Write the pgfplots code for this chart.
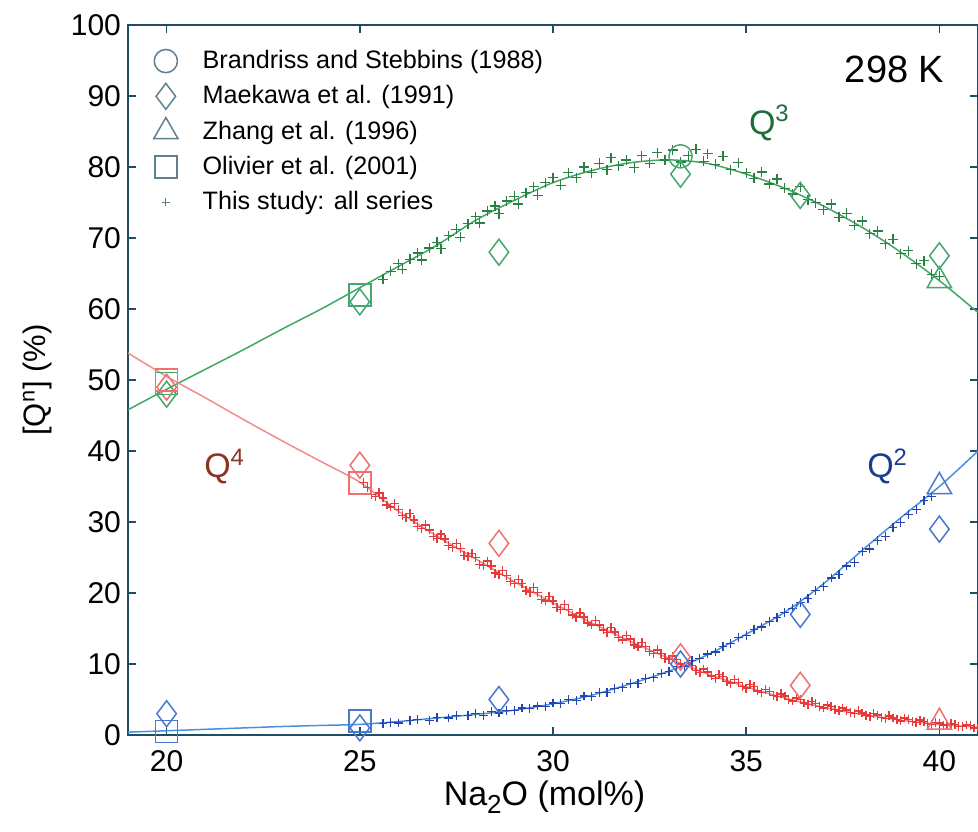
\documentclass[border=0pt]{standalone}
\usepackage{fontspec}
\setmainfont{Liberation Sans}
\usepackage{pgfplots}
\pgfplotsset{compat=1.18}
\usetikzlibrary{calc}
\definecolor{axc}{HTML}{1F4E63}
\definecolor{gline}{HTML}{3FA865}
\definecolor{gmark}{HTML}{46A670}
\definecolor{gplus}{HTML}{2A8040}
\definecolor{rline}{HTML}{F48A8A}
\definecolor{rmark}{HTML}{F07070}
\definecolor{rplus}{HTML}{E83A3A}
\definecolor{bline}{HTML}{4A90E0}
\definecolor{bmark}{HTML}{4A78D0}
\definecolor{bplus}{HTML}{2444B4}
\definecolor{legm}{HTML}{5F7F92}
\definecolor{gtext}{HTML}{1E6E3C}
\definecolor{rtext}{HTML}{8E3324}
\definecolor{btext}{HTML}{1E3C8C}
\pgfplotsset{myleg/.style={legend image code/.code={\path (0pt,0pt) (22pt,0pt); \draw[##1] plot[only marks] coordinates {(6pt,0pt)};}}}
\begin{document}
\begin{tikzpicture}
\begin{axis}[
  width=425pt, height=355pt, scale only axis,
  xmin=19, xmax=41, ymin=0, ymax=100,
  xtick={20,25,30,35,40}, ytick={0,10,...,100},
  tick align=inside, major tick length=4pt,
  axis line style={axc, line width=1pt},
  every tick/.style={axc, line width=0.8pt},
  tick label style={font=\fontsize{15}{18}\selectfont, black},
  /pgf/number format/assume math mode=true,
  xticklabel style={yshift=-4pt},
  xlabel={Na\raisebox{-0.45ex}{\fontsize{13}{13}\selectfont 2}O (mol\%)},
  ylabel={[Q\textsuperscript{n}] (\%)},
  xlabel style={font=\fontsize{17}{20}\selectfont, at={(axis description cs:0.49,-0.087)},anchor=center},
  ylabel style={font=\fontsize{15.5}{18}\selectfont, at={(axis description cs:-0.107,0.5)},anchor=center},
  legend style={at={(axis description cs:0.022,0.976)}, anchor=north west, draw=none, fill=none, font=\fontsize{12.6}{15}\selectfont, row sep=3pt},
  legend cell align=left,
]
\addlegendimage{myleg, legm, mark=o, mark size=5.8pt, line width=0.75pt}
\addlegendentry{Brandriss and Stebbins (1988)}
\addlegendimage{myleg, legm, mark=diamond, mark size=6.5pt, line width=0.75pt}
\addlegendentry{Maekawa et al. (1991)}
\addlegendimage{myleg, legm, mark=triangle, mark size=7pt, line width=0.75pt}
\addlegendentry{Zhang et al. (1996)}
\addlegendimage{myleg, legm, mark=square, mark size=5.5pt, line width=0.75pt}
\addlegendentry{Olivier et al. (2001)}
\addlegendimage{myleg, legm, mark=+, mark size=2pt, line width=0.6pt}
\addlegendentry{This study: all series}

% fit lines
\addplot[forget plot, gline, line width=0.75pt, smooth, tension=0.5] coordinates {
(19,45.8)(20,48.7)(21,51.5)(22,54.3)(23,57.2)(24,60.0)(25,63.0)(26,66.0)(27,69.0)(28,72.5)(29,75.3)(30,77.8)(31,79.5)(32,80.6)(33,81.0)(34,80.5)(35,79.0)(36,77.0)(37,74.5)(38,71.5)(39,68.0)(40,64.0)(41,59.5)};
\addplot[forget plot, rline, line width=0.75pt, smooth, tension=0.5] coordinates {
(19,53.8)(20,50.5)(21,47.5)(22,44.4)(23,41.4)(24,38.5)(25,35.6)(26,31.5)(27,28.0)(28,24.8)(29,21.6)(30,18.6)(31,15.8)(32,13.2)(33,10.8)(34,8.6)(35,6.8)(36,5.2)(37,3.9)(38,2.9)(39,2.1)(40,1.5)(41,1.1)};
\addplot[forget plot, bline, line width=0.75pt, smooth, tension=0.5] coordinates {
(19,0.4)(20,0.6)(21,0.8)(22,1.0)(23,1.2)(24,1.35)(25,1.5)(26,1.9)(27,2.4)(28,2.9)(29,3.5)(30,4.4)(31,5.6)(32,7.2)(33,9.0)(34,11.3)(35,14.2)(36,17.3)(37,21.3)(38,26.0)(39,30.6)(40,35.0)(41,40.0)};

% this study
\addplot[forget plot, only marks, mark=+, mark size=2.5pt, gplus, line width=0.6pt] coordinates {
(25.6,64.2)(25.8,65.3)(26.0,66.4)(26.1,65.6)(26.3,67.0)(26.5,67.9)(26.6,66.9)(26.8,68.6)(27.0,69.4)(27.1,68.5)(27.3,70.3)(27.5,71.2)(27.6,70.1)(27.8,72.0)(28.0,73.0)(28.1,72.1)(28.3,73.8)(28.5,74.5)(28.6,73.4)(28.8,75.2)(29.0,75.9)(29.1,74.8)(29.3,76.4)(29.5,77.2)(29.6,76.0)(29.8,77.8)(30.0,78.5)(30.2,77.4)(30.4,79.2)(30.6,78.5)(30.8,80.0)(31.0,79.2)(31.2,80.5)(31.4,79.6)(31.5,81.3)(31.7,80.2)(31.9,81.0)(32.1,79.9)(32.3,81.6)(32.5,80.5)(32.7,82.0)(32.9,81.0)(33.1,82.4)(33.3,80.7)(33.5,81.6)(33.7,82.5)(33.9,80.8)(34.0,81.9)(34.2,80.4)(34.4,81.5)(34.6,79.6)(34.8,80.6)(35.0,79.2)(35.2,78.4)(35.4,79.3)(35.6,77.6)(35.8,78.3)(36.0,77.0)(36.2,76.2)(36.4,77.2)(36.6,75.4)(36.8,75.0)(37.0,74.0)(37.2,74.8)(37.4,72.9)(37.6,73.5)(37.8,71.8)(38.0,72.4)(38.2,70.6)(38.4,71.0)(38.6,69.2)(38.8,69.8)(39.0,67.8)(39.2,68.2)(39.4,66.4)(39.6,66.8)(39.8,64.9)(40.0,64.6)};
\addplot[forget plot, only marks, mark=+, mark size=2.2pt, rplus, line width=0.7pt] coordinates {
(25.2,34.9)(25.4,33.6)(25.6,33.4)(25.8,32.1)(26.0,31.8)(26.2,30.6)(26.4,30.3)(26.6,29.1)(26.8,28.9)(27.0,27.7)(27.2,27.6)(27.4,26.4)(27.6,26.3)(27.8,25.1)(28.0,25.0)(28.2,23.9)(28.4,23.8)(28.6,22.6)(28.8,22.5)(29.0,21.3)(29.2,21.3)(29.4,20.1)(29.6,20.1)(29.8,18.9)(30.0,18.9)(30.2,17.7)(30.4,17.7)(30.6,16.6)(30.8,16.6)(31.0,15.5)(31.2,15.5)(31.4,14.4)(31.6,14.5)(31.8,13.4)(32.0,13.5)(32.2,12.4)(32.4,12.5)(32.6,11.5)(32.8,11.5)(33.0,10.6)(33.2,10.6)(33.4,9.7)(33.6,9.8)(33.8,8.8)(34.0,8.9)(34.2,8.0)(34.4,8.2)(34.6,7.3)(34.8,7.4)(35.0,6.6)(35.2,6.8)(35.4,6.0)(35.6,6.1)(35.8,5.4)(36.0,5.5)(36.2,4.8)(36.4,5.0)(36.6,4.3)(36.8,4.4)(37.0,3.8)(37.2,4.0)(37.4,3.4)(37.6,3.5)(37.8,3.0)(38.0,3.1)(38.2,2.6)(38.4,2.8)(38.6,2.3)(38.8,2.4)(39.0,2.0)(39.2,2.2)(39.4,1.8)(39.6,1.9)(39.8,1.5)(40.0,1.7)(40.2,1.3)(40.4,1.5)(40.6,1.2)(40.8,1.3)(41.0,1.0)
(25.1,35.6)(25.5,34.1)(25.9,32.6)(26.3,31.2)(26.7,29.6)(27.1,28.3)(27.5,27.0)(27.9,25.6)(28.3,24.5)(28.7,23.2)(29.1,21.9)(29.5,20.8)(29.9,19.5)(30.3,18.4)(30.7,17.2)(31.1,16.1)(31.5,15.1)(31.9,14.0)(32.3,13.0)(32.7,12.0)(33.1,11.1)(33.5,10.2)(33.9,9.3)(34.3,8.5)(34.7,7.8)(35.1,7.1)(35.5,6.4)(35.9,5.8)(36.3,5.2)(36.7,4.7)(37.1,4.2)(37.5,3.8)(37.9,3.4)(38.3,3.0)(38.7,2.7)(39.1,2.4)(39.5,2.1)(39.9,1.8)(40.3,1.6)(40.7,1.4)
(25.3,33.9)(25.7,32.4)(26.1,30.9)(26.5,29.4)(26.9,28.0)(27.3,26.7)(27.7,25.3)(28.1,24.0)(28.5,22.8)(28.9,21.6)(29.3,20.3)(29.7,19.1)(30.1,18.0)(30.5,16.9)(30.9,15.8)(31.3,14.8)(31.7,13.7)(32.1,12.7)(32.5,11.8)(32.9,10.8)(33.3,10.0)(33.7,9.1)(34.1,8.3)(34.5,7.5)(34.9,6.8)(35.3,6.2)(35.7,5.6)(36.1,5.0)(36.5,4.5)(36.9,4.0)(37.3,3.6)(37.7,3.2)(38.1,2.8)(38.5,2.5)(38.9,2.2)(39.3,1.9)(39.7,1.6)(40.1,1.4)(40.5,1.2)(40.9,1.0)};
\addplot[forget plot, only marks, mark=+, mark size=2.2pt, bplus, line width=0.6pt] coordinates {
(25.6,1.6)(25.8,1.8)(26.0,1.7)(26.3,2.0)(26.5,2.2)(26.8,2.1)(27.0,2.5)(27.3,2.4)(27.5,2.8)(27.8,2.7)(28.0,3.0)(28.2,2.8)(28.4,3.3)(28.6,3.1)(28.8,3.5)(29.0,3.4)(29.2,3.8)(29.4,3.7)(29.6,4.1)(29.8,4.0)(30.0,4.5)(30.2,4.4)(30.4,5.0)(30.6,4.9)(30.8,5.5)(31.0,5.4)(31.2,6.0)(31.4,6.0)(31.6,6.6)(31.8,6.7)(32.0,7.3)(32.2,7.3)(32.4,8.0)(32.6,8.1)(32.8,8.7)(33.0,8.9)(33.2,9.6)(33.4,9.7)(33.6,10.5)(33.8,10.8)(34.0,11.4)(34.2,11.7)(34.4,12.5)(34.6,12.9)(34.8,13.7)(35.0,14.0)(35.2,14.9)(35.4,15.2)(35.6,16.0)(35.8,16.5)(36.0,17.3)(36.2,17.8)(36.4,18.7)(36.6,19.2)(36.8,20.3)(37.0,20.9)(37.2,22.1)(37.4,22.6)(37.6,23.8)(37.8,24.3)(38.0,25.8)(38.2,26.2)(38.4,27.4)(38.6,28.0)(38.8,29.2)(39.0,29.9)(39.2,31.1)(39.4,31.8)(39.6,33.0)(39.8,33.6)};

% literature: circles
\addplot[forget plot, only marks, mark=o, mark size=5.8pt, gmark, line width=0.75pt] coordinates {(33.3,81.5)};
% diamonds
\addplot[forget plot, only marks, mark=diamond, mark size=6.5pt, gmark, line width=0.75pt] coordinates {(20,48)(25,61)(28.6,68)(33.3,79)(36.4,76)(40,67.5)};
\addplot[forget plot, only marks, mark=diamond, mark size=6.5pt, rmark, line width=0.75pt] coordinates {(20,49)(25,38)(28.6,27)(33.3,11)(36.4,7)};
\addplot[forget plot, only marks, mark=diamond, mark size=6.5pt, bmark, line width=0.75pt] coordinates {(20,3)(25,1)(28.6,5)(33.3,10)(36.4,17)(40,29)};
% triangles
\addplot[forget plot, only marks, mark=triangle, mark size=7pt, gmark, line width=0.75pt] coordinates {(40,64)};
\addplot[forget plot, only marks, mark=triangle, mark size=7pt, rmark, line width=0.75pt] coordinates {(40,1.8)};
\addplot[forget plot, only marks, mark=triangle, mark size=7pt, bmark, line width=0.75pt] coordinates {(40,35)};
% squares
\addplot[forget plot, only marks, mark=square, mark size=5.5pt, gmark, line width=0.75pt] coordinates {(20,49.5)(25,62)};
\addplot[forget plot, only marks, mark=square, mark size=5.5pt, rmark, line width=0.75pt] coordinates {(20,50)(25,35.5)};
\addplot[forget plot, only marks, mark=square, mark size=5.5pt, bmark, line width=0.75pt] coordinates {(20,0.5)(25,2)};

\node[font=\fontsize{19}{22}\selectfont] at (axis cs:38.84,93.7) {298 K};
\node[font=\fontsize{17}{20}\selectfont, text=gtext] at (axis cs:35.6,86.2) {Q\textsuperscript{3}};
\node[font=\fontsize{17}{20}\selectfont, text=rtext] at (axis cs:21.5,37.8) {Q\textsuperscript{4}};
\node[font=\fontsize{17}{20}\selectfont, text=btext] at (axis cs:38.66,37.8) {Q\textsuperscript{2}};
\end{axis}
\pgfresetboundingbox
\path[use as bounding box] ($(current axis.south west)+(-64pt,-48pt)$) rectangle ($(current axis.north east)+(0pt,12.5pt)$);
\end{tikzpicture}
\end{document}
